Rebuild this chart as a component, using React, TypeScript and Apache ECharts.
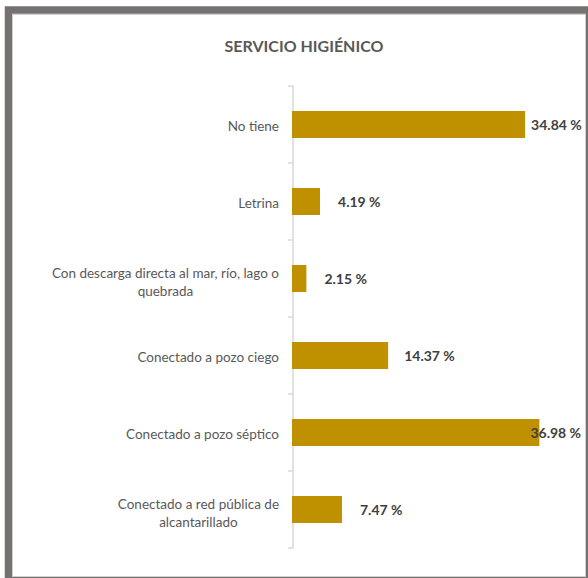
import React, { useEffect, useRef } from "react";
import * as echarts from "echarts";

const categories = [
  "No tiene",
  "Letrina",
  "Con descarga directa al mar, río, lago o\nquebrada",
  "Conectado a pozo ciego",
  "Conectado a pozo séptico",
  "Conectado a red pública de\nalcantarillado",
];
const values = [34.84, 4.19, 2.15, 14.37, 36.98, 7.47];
const labelDistances = [6, 18, 18, 16, -9, 18];
const title = "SERVICIO HIGIÉNICO";

export default function App() {
  const ref = useRef<HTMLDivElement>(null);
  useEffect(() => {
    document.body.style.margin = "0";
    const chart = echarts.init(ref.current!, null, { renderer: "svg" });
    const font = "Lato, 'Open Sans', sans-serif";
    chart.setOption({
      animation: false,
      backgroundColor: "#ffffff",
      title: {
        text: title,
        left: 299,
        top: 32,
        textAlign: "center",
        textStyle: { color: "#595959", fontSize: 16, fontWeight: "bold", fontFamily: font },
      },
      graphic: [
        {
          type: "rect",
          shape: { x: 8.5, y: 10, width: 581, height: 570.5 },
          style: { fill: "none", stroke: "#767171", lineWidth: 7.5 },
          z: 100,
        },
        {
          type: "rect",
          shape: { x: 12.5, y: 14.5, width: 573, height: 562 },
          style: { fill: "none", stroke: "#d0d0d0", lineWidth: 1 },
          z: 100,
        },
      ],
      grid: { left: 292, top: 86, width: 267.6, height: 462, containLabel: false },
      xAxis: {
        type: "value",
        min: 0,
        max: 40,
        show: false,
      },
      yAxis: {
        type: "category",
        data: categories.map((c) => ({
          value: c,
          textStyle: { padding: c.includes("\n") ? [7, 0, 0, 0] : [2, 0, 0, 0] },
        })),
        inverse: true,
        offset: -1,
        axisLine: { show: true, lineStyle: { color: "#d9d9d9", width: 1.5 } },
        axisTick: { show: true, length: 5, lineStyle: { color: "#d9d9d9", width: 1.5 } },
        axisLabel: {
          margin: 14,
          align: "right",
          formatter: (v: string) =>
            v.split("\n").map((l) => `{c|${l}}`).join("\n"),
          rich: {
            c: {
              align: "center",
              color: "#595959",
              fontSize: 13.5,
              lineHeight: 18.5,
              fontFamily: font,
            },
          },
        },
      },
      series: [
        {
          type: "bar",
          data: values.map((v, i) => ({
            value: v,
            label: { distance: labelDistances[i] },
          })),
          barWidth: 27,
          itemStyle: { color: "#BF9000" },
          label: {
            show: true,
            position: "right",
            formatter: (p: any) => `${p.value.toFixed(2)} %`,
            color: "#404040",
            fontSize: 14,
            fontWeight: "bold",
            fontFamily: font,
            padding: [2, 0, 0, 0],
          },
        },
      ],
    });
    return () => chart.dispose();
  }, []);
  return (
    <div
      ref={ref}
      style={{ position: "fixed", left: 0, top: 0, width: 588, height: 578 }}
    />
  );
}
